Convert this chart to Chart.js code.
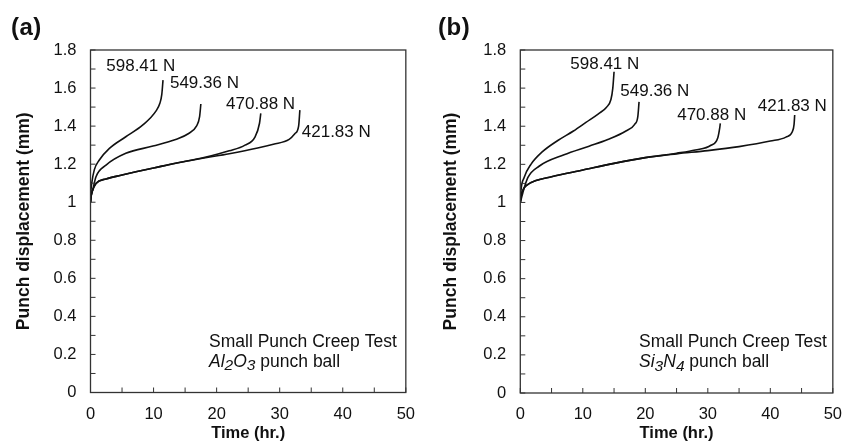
<!DOCTYPE html>
<html lang="en">
<head>
<meta charset="UTF-8">
<script src="https://cdn.jsdelivr.net/npm/chart.js@4.4.0/dist/chart.umd.min.js"></script>
<title>Small punch creep test</title>
<style>
  body { margin: 0; background: #fff; width: 854px; height: 444px; overflow: hidden; display: flex; }
  .panel { position: relative; width: 427px; height: 444px; }
  .tag { position: absolute; left: 11px; top: 13px; font: bold 24px "Liberation Sans", Arial, sans-serif; color: #111; letter-spacing: 0.5px; }
</style>
</head>
<body>
<div class="panel"><div class="tag">(a)</div><canvas id="chartA" width="427" height="444"></canvas></div>
<div class="panel"><div class="tag">(b)</div><canvas id="chartB" width="427" height="444"></canvas></div>
<script>
// loads (N) - same four for both panels
var loads = ['598.41 N', '549.36 N', '470.88 N', '421.83 N'];

// (a) Al2O3 punch ball : time (hr.) / displacement (mm)
var a598t = [0, 0.05, 0.2, 0.6, 1.4, 3.0, 5.6, 8.3, 10.4, 11.0, 11.3, 11.5];
var a598d = [1.00, 1.05, 1.10, 1.17, 1.222, 1.283, 1.344, 1.406, 1.48, 1.52, 1.565, 1.642];
var a549t = [0, 0.1, 0.35, 0.87, 2.46, 5.6, 9.9, 13.5, 15.5, 16.8, 17.3, 17.5];
var a549d = [1.00, 1.03, 1.064, 1.134, 1.195, 1.257, 1.295, 1.33, 1.36, 1.40, 1.45, 1.516];
var a470t = [0, 0.08, 0.3, 0.87, 2.46, 5, 7.2, 10, 13.5, 18, 22, 24.5, 26.1, 26.8, 27.0];
var a470d = [1.00, 1.029, 1.06, 1.099, 1.122, 1.143, 1.16, 1.18, 1.205, 1.235, 1.27, 1.30, 1.344, 1.415, 1.467];
var a421t = [0, 0.08, 0.3, 0.87, 2.46, 5, 7.2, 10, 13.5, 18, 22, 26.5, 29.0, 31.5, 32.4, 33.0, 33.2];
var a421d = [1.00, 1.029, 1.06, 1.099, 1.122, 1.143, 1.16, 1.18, 1.205, 1.232, 1.255, 1.285, 1.305, 1.33, 1.36, 1.40, 1.484];

// (b) Si3N4 punch ball
var b598t = [0, 0.1, 0.6, 1.7, 3.5, 6.0, 8.5, 10.5, 12.5, 13.8, 14.5, 14.8, 15.0];
var b598d = [1.00, 1.06, 1.13, 1.20, 1.265, 1.325, 1.375, 1.42, 1.465, 1.50, 1.54, 1.60, 1.686];
var b549t = [0, 0.4, 1.2, 3.0, 7.0, 11.0, 14.0, 16.9, 18.3, 18.8, 19.0];
var b549d = [1.00, 1.05, 1.13, 1.19, 1.25, 1.295, 1.33, 1.375, 1.41, 1.45, 1.528];
var b470t = [0, 0.1, 0.5, 1.0, 2.5, 5, 10, 15, 20, 25, 28, 30.5, 31.6, 31.9, 32.0];
var b470d = [1.00, 1.03, 1.07, 1.09, 1.115, 1.135, 1.17, 1.205, 1.235, 1.258, 1.275, 1.30, 1.34, 1.39, 1.415];
var b421t = [0, 0.1, 0.5, 1.0, 2.5, 5, 10, 15, 20, 25, 30, 35, 40, 42.5, 43.5, 43.8, 43.9];
var b421d = [1.00, 1.03, 1.07, 1.09, 1.115, 1.135, 1.17, 1.205, 1.235, 1.255, 1.272, 1.293, 1.322, 1.343, 1.37, 1.41, 1.459];

// where the load labels sit (data units, left edge / middle of text)
var labAx = [2.5, 12.6, 21.5, 33.5];
var labAy = [1.712, 1.625, 1.516, 1.367];
var labBx = [8.0, 16.0, 25.1, 38.0];
var labBy = [1.726, 1.581, 1.458, 1.506];

var FONT = '"Liberation Sans", Arial, sans-serif';
var INK = '#111';

function pts(t, d) {
  return t.map(function (x, i) { return { x: x, y: d[i] }; });
}

function line(t, d) {
  return {
    data: pts(t, d),
    showLine: true,
    borderColor: '#111',
    borderWidth: 1.6,
    pointRadius: 0,
    cubicInterpolationMode: 'monotone'
  };
}

// frame, inward tick marks, curve labels, note text
var decor = {
  id: 'decor',
  afterDraw: function (chart, args, opts) {
    var ctx = chart.ctx, ca = chart.chartArea;
    var xs = chart.scales.x, ys = chart.scales.y;
    ctx.save();
    ctx.strokeStyle = '#333';
    ctx.lineWidth = 1.3;
    ctx.strokeRect(ca.left, ca.top, ca.right - ca.left, ca.bottom - ca.top);
    ctx.lineWidth = 1;
    ctx.beginPath();
    ys.ticks.forEach(function (tk, i) {
      var py = ys.getPixelForTick(i);
      ctx.moveTo(ca.left, py); ctx.lineTo(ca.left + 5, py);
    });
    xs.ticks.forEach(function (tk, i) {
      var px = xs.getPixelForTick(i);
      ctx.moveTo(px, ca.bottom); ctx.lineTo(px, ca.bottom - 5);
    });
    ctx.stroke();

    ctx.fillStyle = INK;
    ctx.font = '17px ' + FONT;
    ctx.textBaseline = 'middle';
    ctx.textAlign = 'left';
    opts.labX.forEach(function (v, i) {
      ctx.fillText(loads[i], xs.getPixelForValue(v), ys.getPixelForValue(opts.labY[i]));
    });

    // "Small Punch Creep Test" / formula + punch ball
    ctx.font = '17.5px ' + FONT;
    var nx = xs.getPixelForValue(opts.noteX);
    ctx.fillText('Small Punch Creep Test', nx, ys.getPixelForValue(0.267));
    var y2 = ys.getPixelForValue(0.16);
    var cx = nx;
    opts.formula.forEach(function (p) {
      ctx.font = 'italic ' + (p[1] ? '15.5px ' : '17.5px ') + FONT;
      ctx.fillText(p[0], cx, y2 + (p[1] ? 4 : 0));
      cx += ctx.measureText(p[0]).width;
    });
    ctx.font = '17.5px ' + FONT;
    ctx.fillText(' punch ball', cx, y2);
    ctx.restore();
  }
};

function makeChart(id, sets, pad, yWidth, xHeight, labX, labY, noteX, formula) {
  return new Chart(document.getElementById(id), {
    type: 'scatter',
    data: { datasets: sets },
    options: {
      responsive: false,
      animation: false,
      devicePixelRatio: 1,
      layout: { padding: pad },
      plugins: {
        legend: { display: false },
        tooltip: { enabled: false },
        decor: { labX: labX, labY: labY, noteX: noteX, formula: formula }
      },
      scales: {
        x: {
          type: 'linear', min: 0, max: 50,
          grid: { display: false, drawTicks: false },
          border: { display: false },
          afterFit: function (s) { s.height = xHeight; },
          ticks: {
            stepSize: 5, autoSkip: false, maxRotation: 0, padding: 12,
            color: INK, font: { family: FONT, size: 16.5 },
            callback: function (v) { return v % 10 === 0 ? String(v) : ''; }
          },
          title: {
            display: true, text: 'Time (hr.)', color: INK,
            font: { family: FONT, size: 16.5, weight: 'bold' },
            padding: { top: 0, bottom: 1 }
          }
        },
        y: {
          type: 'linear', min: 0, max: 1.8,
          grid: { display: false, drawTicks: false },
          border: { display: false },
          afterFit: function (s) { s.width = yWidth; },
          ticks: {
            stepSize: 0.1, autoSkip: false, padding: 14,
            color: INK, font: { family: FONT, size: 16.5 },
            callback: function (v) {
              var k = Math.round(v * 10);
              return k % 2 === 0 ? String(k / 10) : '';
            }
          },
          title: {
            display: true, text: 'Punch displacement (mm)', color: INK,
            font: { family: FONT, size: 17.5, weight: 'bold' },
            padding: { top: 14, bottom: 0 }
          }
        }
      }
    },
    plugins: [decor]
  });
}

makeChart('chartA',
  [line(a598t, a598d), line(a549t, a549d), line(a470t, a470d), line(a421t, a421d)],
  { top: 50, right: 21, left: 0, bottom: 0 }, 90.5, 51.5,
  labAx, labAy, 18.8, [['Al', 0], ['2', 1], ['O', 0], ['3', 1]]);

makeChart('chartB',
  [line(b598t, b598d), line(b549t, b549d), line(b470t, b470d), line(b421t, b421d)],
  { top: 50, right: 18.3, left: 0, bottom: 0 }, 93.3, 51,
  labBx, labBy, 19.0, [['Si', 0], ['3', 1], ['N', 0], ['4', 1]]);
</script>
</body>
</html>
